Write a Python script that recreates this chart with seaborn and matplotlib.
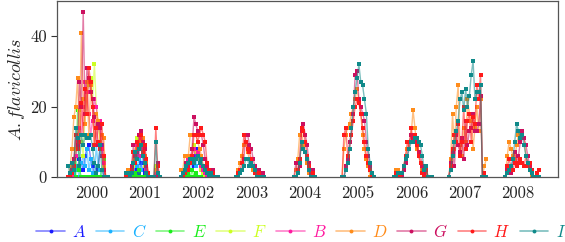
import pandas as pd
import matplotlib
matplotlib.use("Agg")
import matplotlib.pyplot as plt
import matplotlib.colors as mcolors
from matplotlib.lines import Line2D
import seaborn as sns

# sampling sessions: first session of each season, and spacing (years)
YEARS = [2000, 2001, 2002, 2003, 2004, 2005, 2006, 2007, 2008]
START = {2000: 2000.07, 2001: 2001.15, 2002: 2002.18, 2003: 2003.22, 2004: 2004.30,
         2005: 2005.20, 2006: 2006.18, 2007: 2007.20, 2008: 2008.26}
STEP = 0.035

# captures per session, one dict per site (year -> counts)
A = {2000: [0, 0, 0, 0, 2, 3, 5, 4, 2, 6, 8, 9, 5, 3, 1, 0, 2, 8, 9, 0, 0, 0],
     2001: [0, 0, 0, 0, 1, 2, 3, 1, 4, 2, 1, 0, 0, 0, 0, 0, 1, 0, 0],
     2002: [0, 0, 0, 1, 2, 4, 5, 3, 6, 8, 5, 3, 2, 0, 0, 0, 0, 0, 0, 0, 0]}
C = {2000: [0, 0, 0, 1, 3, 2, 0, 4, 6, 3, 8, 2, 5, 1, 0, 9, 3, 2, 0, 0, 0, 0],
     2001: [0, 0, 0, 1, 2, 4, 3, 5, 2, 6, 3, 1, 0, 0, 0, 0, 2, 0, 0],
     2002: [0, 0, 0, 2, 3, 2, 4, 5, 3, 6, 4, 3, 1, 0, 0, 0, 0, 0, 0, 0, 0]}
E = {2000: [0, 0, 1, 4, 0, 19, 2, 0, 0, 0, 0, 0, 0, 0, 0, 0, 0, 0, 2, 5, 0, 0],
     2001: [0, 0, 0, 0, 0, 1, 0, 2, 0, 0, 0, 0, 0, 0, 0, 0, 0, 0, 0],
     2002: [0, 0, 0, 0, 1, 0, 2, 0, 1, 0, 0, 0, 0, 0, 0, 0, 0, 0, 0, 0, 0]}
F = {2000: [0, 0, 2, 5, 8, 12, 19, 10, 6, 18, 24, 26, 28, 22, 32, 20, 16, 10, 6, 3, 0, 0],
     2001: [0, 0, 0, 1, 3, 6, 11, 8, 10, 7, 3, 1, 0, 0, 0, 0, 3, 0, 0],
     2002: [0, 0, 1, 2, 3, 5, 6, 9, 7, 5, 4, 2, 1, 0, 0, 0, 0, 0, 0, 0, 0]}
B = {2000: [0, 0, 0, 2, 6, 10, 14, 12, 20, 27, 24, 18, 12, 16, 22, 20, 14, 16, 8, 4, 0, 0],
     2001: [0, 0, 1, 2, 4, 7, 9, 6, 11, 8, 5, 2, 0, 0, 0, 0, 1, 0, 0],
     2002: [0, 0, 1, 3, 5, 4, 6, 8, 5, 7, 4, 3, 2, 1, 0, 0, 0, 0, 0, 0, 0]}
D = {2000: [0, 3, 8, 17, 20, 28, 12, 41, 22, 15, 27, 12, 26, 20, 9, 18, 16, 10, 12, 11, 0, 0],
     2001: [1, 2, 2, 2, 4, 5, 8, 10, 9, 11, 6, 4, 1, 0, 0, 0, 2, 0, 0],
     2002: [2, 2, 6, 6, 6, 12, 12, 12, 12, 10, 8, 6, 3, 2, 1, 0, 0, 0, 0, 0, 0],
     2003: [0, 2, 4, 6, 9, 10, 7, 5, 4, 2, 1, 0, 0, 1, 0, 0],
     2004: [0, 2, 5, 12, 13, 9, 7, 4, 1, 0, 0, 0],
     2005: [0, 8, 12, 14, 15, 18, 20, 22, 25, 22, 18, 12, 8, 5, 3, 0, 0, 0],
     2006: [0, 2, 2, 0, 1, 3, 6, 8, 10, 12, 19, 14, 8, 6, 4, 2, 0, 1, 0, 0, 0],
     2007: [0, 5, 18, 8, 20, 26, 9, 6, 14, 10, 22, 18, 16, 8, 14, 20, 13, 22, 0, 3, 5],
     2008: [0, 6, 10, 8, 6, 5, 9, 12, 10, 12, 11, 6, 4, 2, 0, 0, 0, 0, 0]}
G = {2000: [0, 0, 2, 5, 12, 9, 27, 20, 47, 18, 31, 28, 24, 22, 17, 9, 15, 14, 6, 2, 0, 0],
     2001: [0, 1, 1, 3, 9, 6, 7, 12, 13, 10, 8, 3, 0, 0, 0, 0, 0, 4, 0],
     2002: [0, 1, 2, 4, 3, 5, 8, 17, 15, 13, 12, 12, 9, 5, 3, 2, 1, 2, 0, 0, 0],
     2003: [0, 0, 1, 2, 5, 12, 12, 9, 8, 5, 3, 1, 2, 0, 1, 0],
     2004: [0, 4, 1, 3, 13, 15, 12, 9, 4, 1, 2, 0],
     2005: [0, 0, 3, 5, 10, 12, 18, 29, 30, 22, 20, 18, 16, 10, 6, 3, 0, 0],
     2006: [0, 0, 1, 0, 0, 2, 4, 6, 10, 12, 11, 10, 9, 7, 6, 3, 1, 2, 0, 0, 0],
     2007: [0, 4, 7, 3, 12, 9, 7, 11, 5, 16, 9, 13, 14, 18, 13, 13, 15, 23, 0, 0, 0],
     2008: [0, 2, 3, 1, 5, 7, 4, 6, 10, 13, 11, 9, 6, 3, 1, 0, 0, 0, 0]}
H = {2000: [0, 0, 1, 3, 12, 8, 10, 21, 12, 25, 18, 31, 27, 20, 9, 14, 10, 8, 15, 6, 0, 0],
     2001: [0, 0, 1, 2, 7, 4, 10, 9, 12, 7, 9, 5, 1, 0, 0, 0, 14, 3, 0],
     2002: [0, 0, 1, 2, 2, 4, 6, 12, 12, 10, 12, 14, 12, 10, 4, 2, 0, 1, 0, 0, 0],
     2003: [0, 1, 2, 4, 12, 10, 8, 7, 5, 3, 1, 0, 1, 0, 0, 0],
     2004: [0, 0, 2, 5, 14, 13, 10, 6, 3, 0, 1, 0],
     2005: [0, 12, 14, 6, 8, 12, 16, 20, 22, 21, 18, 14, 10, 6, 4, 2, 0, 0],
     2006: [0, 1, 1, 0, 1, 3, 6, 10, 8, 14, 10, 12, 9, 6, 4, 1, 0, 2, 0, 0, 0],
     2007: [0, 3, 8, 12, 10, 15, 6, 10, 20, 8, 16, 18, 10, 17, 15, 26, 22, 29, 0, 1, 0],
     2008: [0, 3, 5, 3, 2, 4, 3, 4, 5, 4, 3, 6, 3, 4, 2, 0, 0, 1, 2]}
I = {2000: [3, 1, 4, 2, 14, 11, 3, 12, 9, 12, 11, 11, 12, 8, 4, 1, 3, 9, 2, 0, 0, 0],
     2001: [1, 1, 0, 1, 4, 7, 5, 8, 9, 6, 4, 1, 0, 0, 0, 0, 10, 1, 0],
     2002: [0, 1, 2, 3, 4, 5, 5, 4, 5, 6, 4, 5, 3, 2, 1, 0, 1, 0, 0, 0, 0],
     2003: [0, 0, 1, 2, 3, 5, 5, 3, 4, 3, 2, 0, 0, 0, 0, 0],
     2004: [0, 0, 1, 4, 10, 8, 7, 5, 2, 0, 0, 0],
     2005: [0, 0, 2, 4, 8, 14, 20, 24, 28, 32, 27, 26, 22, 18, 8, 4, 1, 0],
     2006: [0, 0, 1, 1, 1, 3, 5, 6, 8, 10, 10, 11, 11, 10, 9, 6, 2, 3, 0, 0, 0],
     2007: [0, 2, 6, 10, 13, 16, 22, 24, 19, 25, 20, 23, 29, 33, 22, 24, 24, 26, 0, 0, 0],
     2008: [0, 1, 2, 3, 5, 10, 15, 13, 11, 12, 9, 6, 4, 2, 1, 0, 0, 0, 0]}

sites = ["A", "C", "E", "F", "B", "D", "G", "H", "I"]
site_data = [A, C, E, F, B, D, G, H, I]
colors = ["#1a1aff", "#1ab2ff", "#1aee1a", "#ccff22", "#ff1aa0",
          "#ff8c1a", "#cc1060", "#ff1a1a", "#108a8a"]

rows = []
for name, d in zip(sites, site_data):
    for yr, vals in d.items():
        for i, v in enumerate(vals):
            rows.append({"t": START[yr] + i * STEP, "v": v, "site": name,
                         "seg": f"{name}{yr}"})
df = pd.DataFrame(rows)

sns.set_style("ticks")
plt.rcParams["font.family"] = "serif"
plt.rcParams["font.serif"] = ["cmr10"]
plt.rcParams["mathtext.fontset"] = "cm"
plt.rcParams["axes.formatter.use_mathtext"] = True

fig = plt.figure(figsize=(5.65, 2.42), dpi=100)
ax = fig.add_axes([0.101, 0.269, 0.887, 0.727])

sns.lineplot(data=df, x="t", y="v", hue="site", hue_order=sites, units="seg",
             estimator=None, sort=False, palette=colors, marker="s",
             markersize=2.6, linewidth=1.0, legend=False, ax=ax)

# lighter lines, solid markers
for line in ax.lines:
    c = mcolors.to_rgb(line.get_color())
    line.set_color((*c, 0.55))
    line.set_markerfacecolor(c)
    line.set_markeredgecolor(c)
    line.set_markeredgewidth(0)

ax.set_xlim(1999.86, 2009.25)
ax.set_ylim(0, 50)
ax.set_xticks([y + 0.5 for y in YEARS])
ax.set_xticklabels([str(y) for y in YEARS], fontsize=12)
ax.set_yticks([0, 20, 40])
ax.set_yticklabels(["0", "20", "40"], fontsize=12)
ax.tick_params(axis="x", length=0, pad=6)
ax.tick_params(axis="y", length=4, width=0.8, color="#333333")
ax.set_xlabel("")
ax.set_ylabel("$A.flavicollis$", fontsize=13, labelpad=2)
for s in ax.spines.values():
    s.set_color("#555555")
    s.set_linewidth(0.9)

handles = []
for c in colors:
    rgb = mcolors.to_rgb(c)
    handles.append(Line2D([], [], color=(*rgb, 0.55), lw=1.2, marker="o",
                          markersize=2.8, markerfacecolor=rgb, markeredgewidth=0))
fig.legend(handles, [f"${s}$" for s in sites], loc="lower center",
           bbox_to_anchor=(0.533, -0.04), ncol=9, frameon=False, fontsize=12,
           handlelength=1.7, handletextpad=0.45, columnspacing=0.58,
           borderpad=0.2, labelcolor=colors)

fig.savefig("out.png", dpi=100)
